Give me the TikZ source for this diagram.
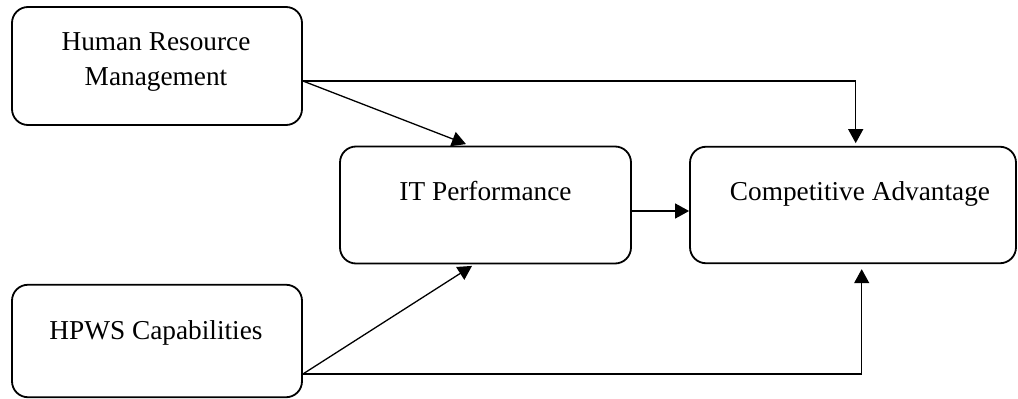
\documentclass[tikz,border=0pt]{standalone}
\usepackage{fontspec}
\setmainfont{Liberation Serif}
\usetikzlibrary{arrows.meta,calc}
\begin{document}
\begin{tikzpicture}[x=1pt,y=-1pt,
  box/.style={draw, line width=1.8pt, rounded corners=16pt, inner sep=0pt},
  lbl/.style={font=\fontsize{27.3pt}{35pt}\selectfont, inner sep=0pt, anchor=base, align=center},
  conn/.style={line width=1.3pt, -{Triangle[length=14pt,width=15pt]}}]
\useasboundingbox (0,0) rectangle (1018,399);
% boxes
\node[box, minimum width=290pt, minimum height=118pt] (hrm) at (157,66) {};
\node[box, minimum width=291pt, minimum height=117pt] (it) at (485.5,205) {};
\node[box, minimum width=326pt, minimum height=116.5pt] (ca) at (853,205) {};
\node[box, minimum width=290pt, minimum height=112.5pt] (hpws) at (157,341) {};
% labels
\node[lbl] (hrmtxt) at (156,85) {Human Resource\\Management};
\node[lbl] (ittxt) at (485.5,200) {IT Performance};
\node[lbl] (catxt) at (860,200) {Competitive Advantage};
\node[lbl] (hpwstxt) at (156,339) {HPWS Capabilities};
% connector end points
\coordinate (hrmout) at ($(hrm.east)+(0,15)$);
\coordinate (hpwsout) at ($(hpws.east)+(0,33)$);
\coordinate (itin1) at ($(it.north)+(-19.5,-1.5)$);
\coordinate (itin2) at ($(it.south)+(-13.5,1.5)$);
\coordinate (catop) at ($(ca.north)+(2.7,-2.7)$);
\coordinate (cabot) at ($(ca.south)+(8.7,5)$);
\coordinate (itout) at ($(it.east)+(0,6)$);
% connectors
\draw[conn] (hrmout) -- (itin1);
\draw[conn] (hrmout) -| (catop);
\draw[conn] (itout) -- (itout -| ca.west);
\draw[conn] (hpwsout) -- (itin2);
\draw[conn] (hpwsout) -| (cabot);
\end{tikzpicture}
\end{document}
